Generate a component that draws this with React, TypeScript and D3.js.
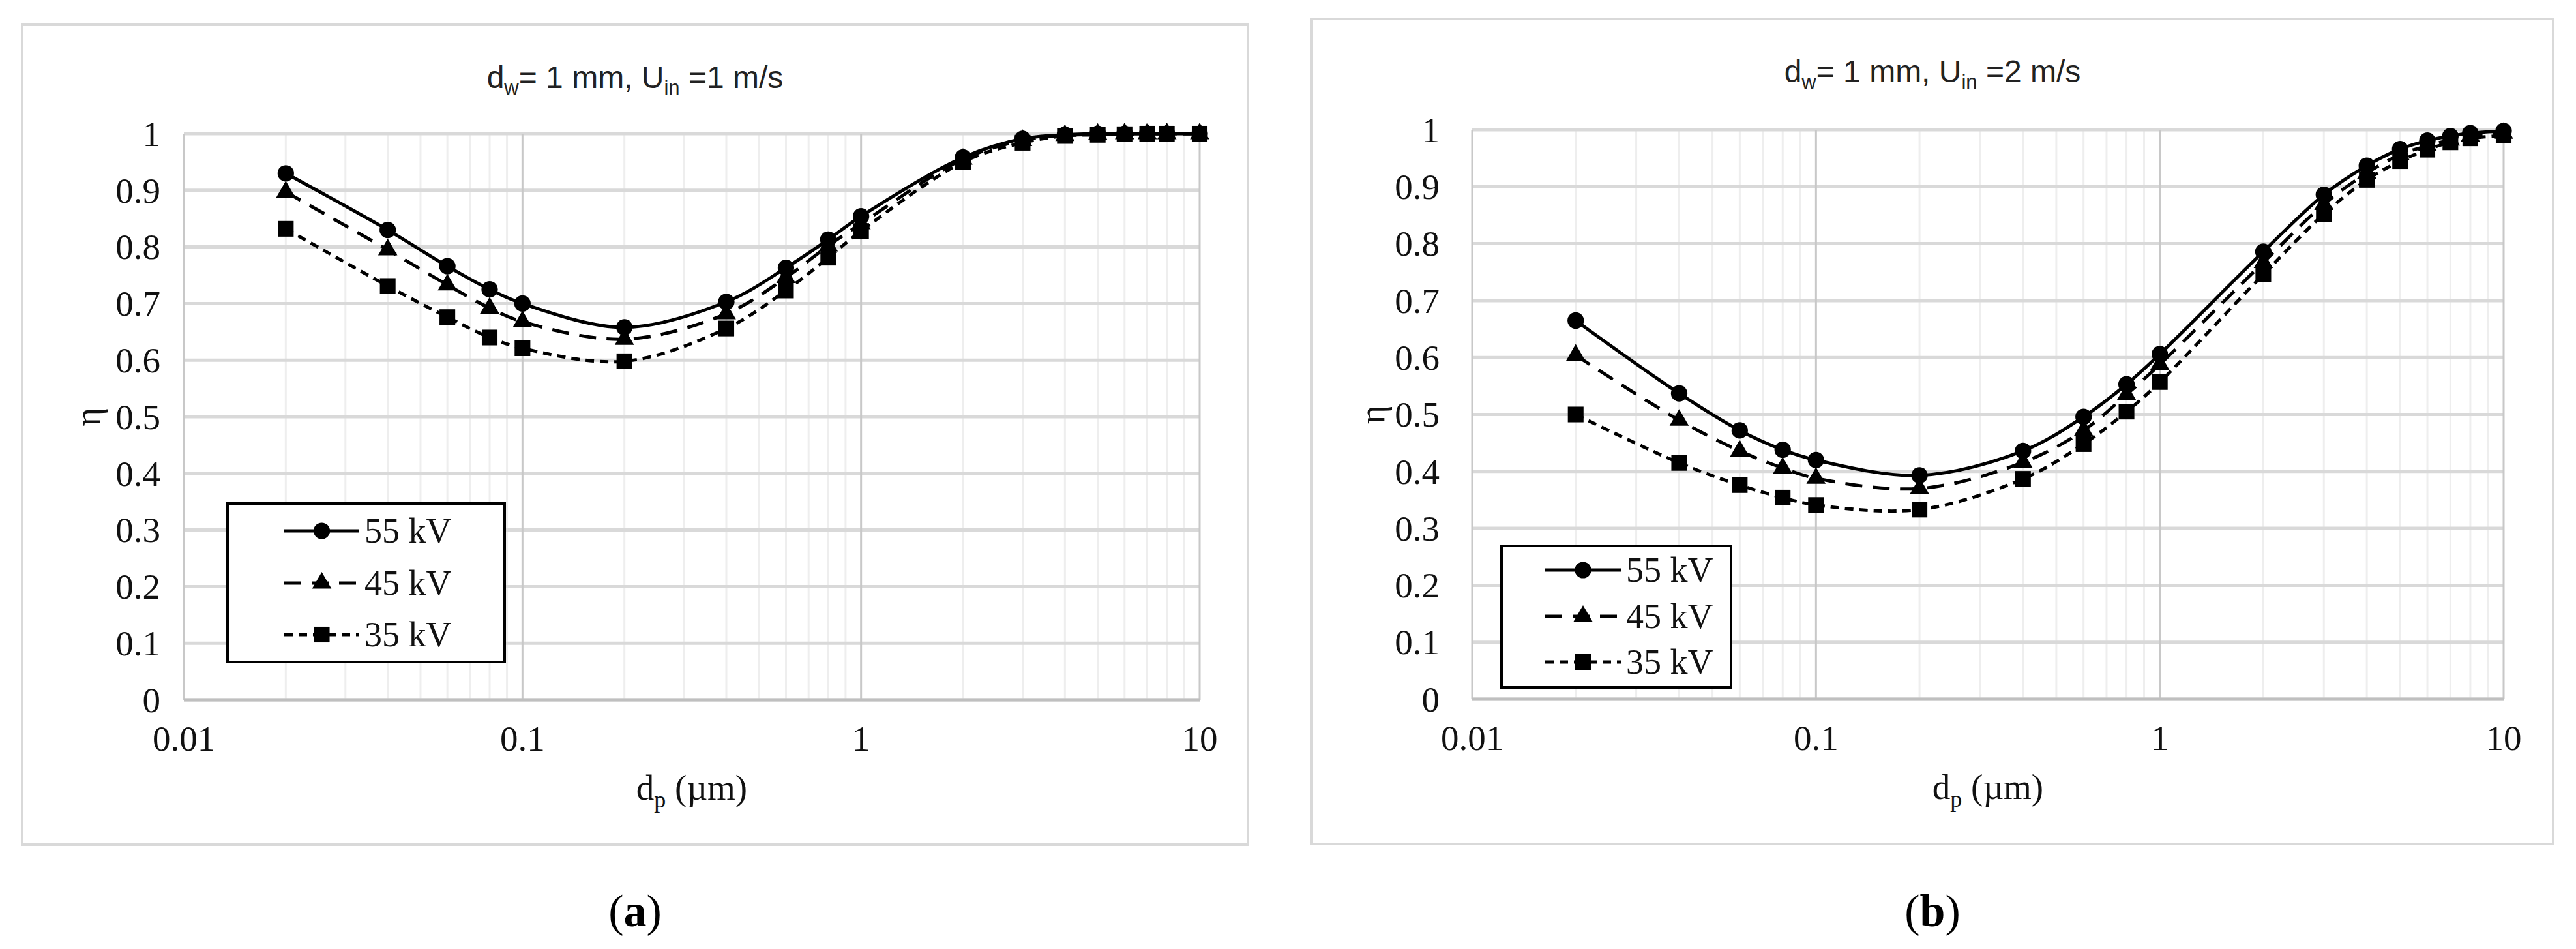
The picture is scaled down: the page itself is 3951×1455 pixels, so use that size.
import * as d3 from "d3";

// particle diameter (um)
const DP = [0.02, 0.04, 0.06, 0.08, 0.1, 0.2, 0.4, 0.6, 0.8, 1, 2, 3, 4, 5, 6, 7, 8, 10];
const SERIES = ["55 kV", "45 kV", "35 kV"];

// (a) U_in = 1 m/s
const A_55 = [0.93, 0.83, 0.766, 0.725, 0.7, 0.658, 0.703, 0.763, 0.813, 0.854, 0.958, 0.991, 0.998, 1, 1, 1, 1, 1];
const A_45 = [0.897, 0.795, 0.733, 0.692, 0.668, 0.637, 0.682, 0.746, 0.802, 0.841, 0.955, 0.988, 0.997, 0.999, 1, 1, 1, 1];
const A_35 = [0.832, 0.731, 0.676, 0.64, 0.621, 0.598, 0.656, 0.723, 0.781, 0.828, 0.95, 0.984, 0.996, 0.998, 0.999, 1, 1, 1];

// (b) U_in = 2 m/s
const B_55 = [0.665, 0.537, 0.472, 0.438, 0.42, 0.393, 0.436, 0.496, 0.553, 0.606, 0.786, 0.886, 0.937, 0.966, 0.981, 0.989, 0.994, 0.998];
const B_45 = [0.604, 0.49, 0.436, 0.406, 0.388, 0.37, 0.416, 0.472, 0.535, 0.588, 0.767, 0.869, 0.924, 0.956, 0.972, 0.982, 0.989, 0.994];
const B_35 = [0.5, 0.415, 0.376, 0.354, 0.341, 0.333, 0.387, 0.448, 0.505, 0.557, 0.746, 0.852, 0.912, 0.945, 0.965, 0.978, 0.985, 0.99];

const Y_TICKS = [0, 0.1, 0.2, 0.3, 0.4, 0.5, 0.6, 0.7, 0.8, 0.9, 1];
const X_TICKS = [0.01, 0.1, 1, 10];

const SERIF = "'Liberation Serif', 'Times New Roman', serif";
const SANS = "'Liberation Sans', Arial, sans-serif";

const DASHES = [undefined, "26,16", "13,9"];
const SYMBOLS = [d3.symbolCircle, d3.symbolTriangle, d3.symbolSquare];
const SYMBOL_SIZE = [500, 380, 580];

type Box = { x: number; y: number; w: number; h: number };

type PanelProps = {
  frame: Box;
  plot: Box;
  uin: string;
  values: number[][];
  legend: Box;
  legendRows: number[];
  legendLine: [number, number];
  label: string;
  tickRight: number;
  etaX: number;
};

const Panel = ({ frame, plot, uin, values, legend, legendRows, legendLine, label, tickRight, etaX }: PanelProps) => {
  const x = d3.scaleLog().domain([0.01, 10]).range([plot.x, plot.x + plot.w]);
  const y = d3.scaleLinear().domain([0, 1]).range([plot.y + plot.h, plot.y]);
  const line = d3
    .line<number>()
    .x((_, i) => x(DP[i]))
    .y((d) => y(d))
    .curve(d3.curveCatmullRom.alpha(0.5));
  const symbol = (i: number) => d3.symbol(SYMBOLS[i], SYMBOL_SIZE[i])() as string;
  const minor = x.ticks().filter((t) => !X_TICKS.some((m) => Math.abs(m - t) < 1e-9));
  const cx = frame.x + frame.w / 2;
  const bottom = plot.y + plot.h;

  return (
    <g>
      <rect x={frame.x} y={frame.y} width={frame.w} height={frame.h} fill="#fff" stroke="#d9d9d9" strokeWidth={4} />
      <text x={cx} y={frame.y + 97} textAnchor="middle" fontFamily={SANS} fontSize={48} fill="#222">
        d<tspan fontSize={31} dy={10}>w</tspan>
        <tspan dy={-10}>= 1 mm, U</tspan>
        <tspan fontSize={31} dy={10}>in</tspan>
        <tspan dy={-10}> ={uin} m/s</tspan>
      </text>

      {/* grid */}
      {minor.map((t) => (
        <line key={"m" + t} x1={x(t)} x2={x(t)} y1={plot.y} y2={bottom} stroke="#eeeeee" strokeWidth={3} />
      ))}
      {Y_TICKS.map((t) => (
        <line key={"h" + t} x1={plot.x} x2={plot.x + plot.w} y1={y(t)} y2={y(t)} stroke="#d9d9d9" strokeWidth={5} />
      ))}
      {X_TICKS.map((t) => (
        <line key={"v" + t} x1={x(t)} x2={x(t)} y1={plot.y} y2={bottom} stroke="#c8c8c8" strokeWidth={3} />
      ))}
      <line x1={plot.x} x2={plot.x + plot.w} y1={bottom} y2={bottom} stroke="#bfbfbf" strokeWidth={5} />

      {/* tick labels */}
      {Y_TICKS.map((t) => (
        <text key={"yl" + t} x={tickRight} y={y(t)} dy="0.34em" textAnchor="end" fontFamily={SERIF} fontSize={55} fill="#111">
          {t === 0 || t === 1 ? String(t) : t.toFixed(1)}
        </text>
      ))}
      {X_TICKS.map((t) => (
        <text key={"xl" + t} x={x(t)} y={bottom + 78} textAnchor="middle" fontFamily={SERIF} fontSize={55} fill="#111">
          {String(t)}
        </text>
      ))}
      <text
        transform={`translate(${etaX}, ${plot.y + plot.h / 2}) rotate(-90)`}
        textAnchor="middle"
        dy="0.34em"
        fontFamily={SERIF}
        fontSize={55}
        fill="#111"
      >
        η
      </text>
      <text x={plot.x + plot.w / 2} y={bottom + 153} textAnchor="middle" fontFamily={SERIF} fontSize={55} fill="#111">
        d<tspan fontSize={36} dy={12}>p</tspan>
        <tspan dy={-12}> (µm)</tspan>
      </text>

      {/* series */}
      {values.map((vals, i) => (
        <g key={SERIES[i]}>
          <path d={line(vals) as string} fill="none" stroke="#000" strokeWidth={5} strokeDasharray={DASHES[i]} />
          {vals.map((v, j) => (
            <path key={j} d={symbol(i)} transform={`translate(${x(DP[j])}, ${y(v)})`} fill="#000" />
          ))}
        </g>
      ))}

      {/* legend */}
      <rect x={legend.x} y={legend.y} width={legend.w} height={legend.h} fill="#fff" stroke="#000" strokeWidth={4} />
      {SERIES.map((name, i) => (
        <g key={"lg" + name}>
          <line
            x1={legendLine[0]}
            x2={legendLine[1]}
            y1={legendRows[i]}
            y2={legendRows[i]}
            stroke="#000"
            strokeWidth={5}
            strokeDasharray={DASHES[i]}
          />
          <path d={symbol(i)} transform={`translate(${(legendLine[0] + legendLine[1]) / 2}, ${legendRows[i]})`} fill="#000" />
          <text x={legendLine[1] + 8} y={legendRows[i]} dy="0.34em" fontFamily={SERIF} fontSize={54} fill="#111">
            {name}
          </text>
        </g>
      ))}

      <text x={cx} y={1420} textAnchor="middle" fontFamily={SERIF} fontSize={70} fill="#000">
        (<tspan fontWeight="bold">{label}</tspan>)
      </text>
    </g>
  );
};

const App = () => {
  document.body.style.margin = "0";
  return (
    <svg width={3951} height={1455} style={{ display: "block", background: "#fff" }}>
      <Panel
        frame={{ x: 34, y: 38, w: 1880, h: 1257 }}
        plot={{ x: 282, y: 205, w: 1558, h: 868 }}
        uin="1"
        values={[A_55, A_45, A_35]}
        legend={{ x: 349, y: 772, w: 425, h: 243 }}
        legendRows={[814, 894, 973]}
        legendLine={[436, 551]}
        label="a"
        tickRight={246}
        etaX={134}
      />
      <Panel
        frame={{ x: 2012, y: 29, w: 1904, h: 1265 }}
        plot={{ x: 2258, y: 199, w: 1582, h: 873 }}
        uin="2"
        values={[B_55, B_45, B_35]}
        legend={{ x: 2303, y: 837, w: 352, h: 217 }}
        legendRows={[874, 945, 1015]}
        legendLine={[2370, 2486]}
        label="b"
        tickRight={2208}
        etaX={2104}
      />
    </svg>
  );
};

export default App;
